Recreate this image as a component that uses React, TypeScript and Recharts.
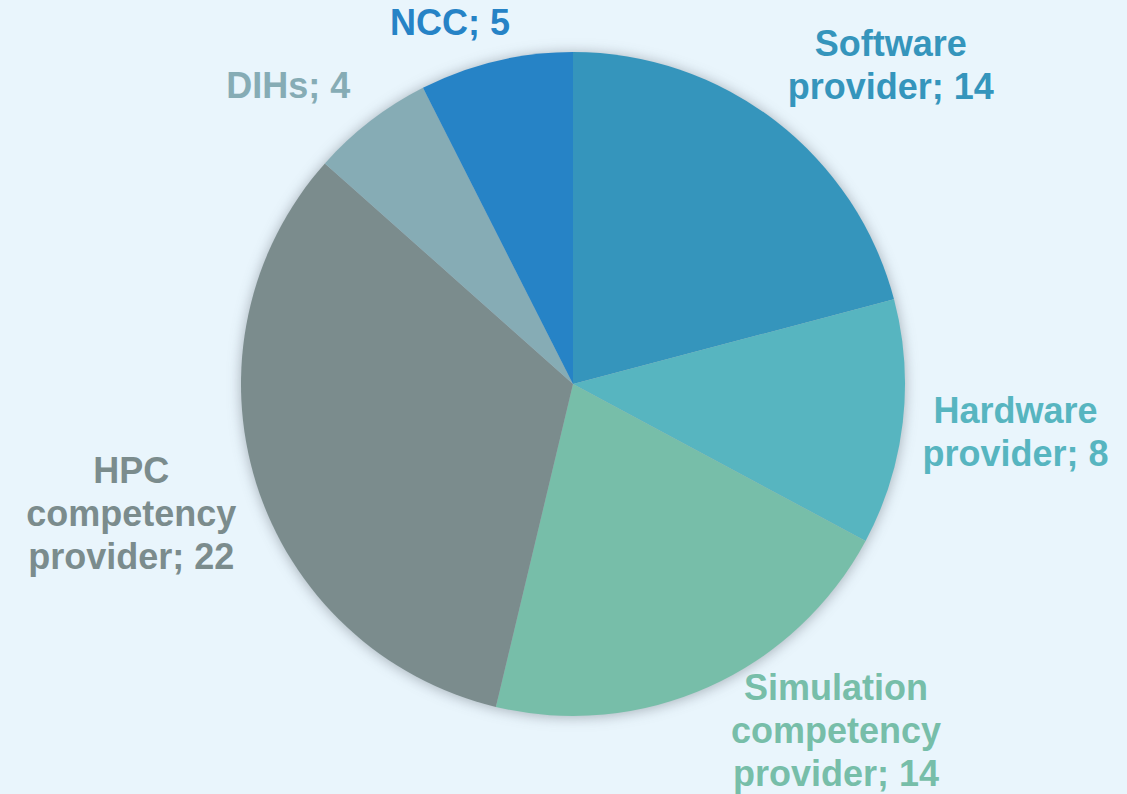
import { PieChart, Pie, Cell } from "recharts";

// --- Data ---

const categories = [
  "Software provider",
  "Hardware provider",
  "Simulation competency provider",
  "HPC competency provider",
  "DIHs",
  "NCC",
];
const counts = [14, 8, 14, 22, 4, 5];
const colors = ["#3595bc", "#57b5c0", "#77bea9", "#7b8c8d", "#86acb5", "#2683c6"];

const data = categories.map((name, i) => ({ name, value: counts[i] }));
const total = counts.reduce((a, b) => a + b, 0);

// --- Layout ---

const W = 1127;
const H = 794;
const FONT = 36;
const LINE_H = 43;
const RADIAN = Math.PI / 180;
const PAD = 20;

// rough Arial Bold advance widths (em)
const charWidth = (c: string) => {
  if ("ijl;:.,| ".includes(c)) return 0.278;
  if ("ft".includes(c)) return 0.333;
  if ("r".includes(c)) return 0.389;
  if ("mwMW".includes(c)) return 0.889;
  if (/[A-Z]/.test(c)) return 0.722;
  if (/[0-9]/.test(c)) return 0.556;
  if ("ace".includes(c)) return 0.556;
  return 0.611;
};
const textWidth = (s: string) => s.split("").reduce((a, c) => a + charWidth(c), 0) * FONT;

const clamp1 = (v: number) => Math.max(-1, Math.min(1, v));

const renderLabel = (props: any) => {
  const { cx, cy, midAngle, outerRadius, index, name, value } = props;
  const words = String(name).split(" ");
  const lines = words.map((w, i) => (i === words.length - 1 ? `${w}; ${value}` : w));
  const widths = lines.map(textWidth);
  const w = Math.max(...widths);
  const h = lines.length * LINE_H;
  const dx = Math.cos(-midAngle * RADIAN);
  const dy = Math.sin(-midAngle * RADIAN);
  const ax = cx + (outerRadius + PAD) * dx;
  const ay = cy + (outerRadius + PAD) * dy;
  let x = ax + (w / 2) * clamp1(dx * 3);
  let y = ay + (h / 2) * clamp1(dy * 1.2);
  x = Math.min(Math.max(x, w / 2), W - w / 2);
  y = Math.min(Math.max(y, h / 2), H - h / 2);
  // keep every line clear of the pie horizontally
  const top = y - h / 2;
  lines.forEach((_, i) => {
    const ly = top + LINE_H * (i + 0.5);
    const off = ly - cy;
    const R = outerRadius + 15;
    if (Math.abs(off) < R) {
      const half = Math.sqrt(R * R - off * off);
      if (dx >= 0) {
        const need = cx + half + widths[i] / 2;
        if (x < need) x = need;
      } else {
        const need = cx - half - widths[i] / 2;
        if (x > need) x = need;
      }
    }
  });
  return (
    <text
      key={`label-${index}`}
      x={x}
      y={top + LINE_H / 2}
      fill={colors[index]}
      textAnchor="middle"
      dominantBaseline="central"
      fontFamily="'Liberation Sans', Arial, sans-serif"
      fontWeight="bold"
      fontSize={FONT}
    >
      {lines.map((l, i) => (
        <tspan key={i} x={x} dy={i === 0 ? 0 : LINE_H}>
          {l}
        </tspan>
      ))}
    </text>
  );
};

export default function App() {
  return (
    <div style={{ position: "absolute", left: 0, top: 0, width: W, height: H, background: "#e9f5fc" }}>
      <style>{`.pie-shadow { filter: blur(4px); }`}</style>
      <PieChart width={W} height={H} margin={{ top: 0, right: 0, bottom: 0, left: 0 }}>
        <Pie
          className="pie-shadow"
          data={[{ name: "all", value: total }]}
          dataKey="value"
          cx={573}
          cy={385}
          outerRadius={333}
          startAngle={90}
          endAngle={-270}
          stroke="none"
          fill="rgba(60,70,80,0.35)"
          isAnimationActive={false}
        />
        <Pie
          data={data}
          dataKey="value"
          nameKey="name"
          cx={573}
          cy={384}
          outerRadius={332}
          startAngle={90}
          endAngle={-270}
          stroke="none"
          label={renderLabel}
          labelLine={false}
          isAnimationActive={false}
        >
          {data.map((entry, index) => (
            <Cell key={`cell-${index}`} fill={colors[index]} />
          ))}
        </Pie>
      </PieChart>
    </div>
  );
}
